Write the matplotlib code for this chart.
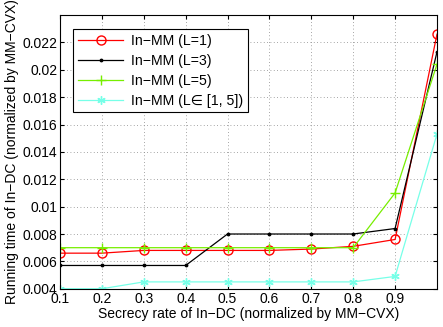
import matplotlib
matplotlib.use('Agg')
import matplotlib.pyplot as plt

plt.rcParams['font.family'] = ['Liberation Sans', 'DejaVu Sans']

# data
rate = [0.1, 0.2, 0.3, 0.4, 0.5, 0.6, 0.7, 0.8, 0.9, 1.0]
t_L1 = [0.0066, 0.0066, 0.0068, 0.0068, 0.0068, 0.0068, 0.0069, 0.0071, 0.0076, 0.0226]
t_L3 = [0.0057, 0.0057, 0.0057, 0.0057, 0.0080, 0.0080, 0.0080, 0.0080, 0.0084, 0.0213]
t_L5 = [0.0070, 0.0070, 0.0070, 0.0070, 0.0070, 0.0070, 0.0070, 0.0070, 0.0110, 0.0204]
t_Lr = [0.0040, 0.0040, 0.0045, 0.0045, 0.0045, 0.0045, 0.0045, 0.0045, 0.0049, 0.0153]

xticks = [0.1, 0.2, 0.3, 0.4, 0.5, 0.6, 0.7, 0.8, 0.9]
yticks = [0.004, 0.006, 0.008, 0.010, 0.012, 0.014, 0.016, 0.018, 0.020, 0.022]

fig = plt.figure(figsize=(4.43, 3.27), dpi=100)
ax = fig.add_axes([0.1354, 0.117, 0.851, 0.837])

ax.plot(rate, t_L1, '-', color='#ff0000', marker='o', markersize=6.5,
        markerfacecolor='none', linewidth=0.9, label='In\u2212MM (L=1)')
ax.plot(rate, t_L3, '-', color='black', marker='.', markersize=3.5,
        linewidth=0.9, label='In\u2212MM (L=3)')
ax.plot(rate, t_L5, '-', color='#77ee00', marker='+', markersize=7,
        linewidth=0.9, label='In\u2212MM (L=5)')
ax.plot(rate, t_Lr, '-', color='#77ffe8', marker=(6, 2, 0), markersize=6,
        linewidth=0.9, label='In\u2212MM (L\u2208 [1, 5])')

ax.set_xlim(0.1, 1.0)
ax.set_ylim(0.004, 0.024)
ax.set_xticks(xticks)
ax.set_xticklabels(['%g' % v for v in xticks])
ax.set_yticks(yticks)
ax.set_yticklabels(['%g' % v for v in yticks])
ax.tick_params(direction='in', top=True, right=True, labelsize=10, length=3, pad=2)
ax.grid(True, linestyle=(0, (1, 3)), color='#888888', linewidth=0.6)

ax.set_xlabel('Secrecy rate of In\u2212DC (normalized by MM\u2212CVX)', fontsize=10, labelpad=1)
ax.set_ylabel('Running time of In\u2212DC (normalized by MM\u2212CVX)', fontsize=10, labelpad=2)

leg = ax.legend(loc='upper left', bbox_to_anchor=(0.035, 0.95), fontsize=10.2,
                fancybox=False, edgecolor='black', framealpha=1,
                handlelength=3.2, borderpad=0.35, labelspacing=0.42,
                handletextpad=0.5, borderaxespad=0)
leg.get_frame().set_linewidth(0.8)

fig.savefig('out.png', dpi=100)
